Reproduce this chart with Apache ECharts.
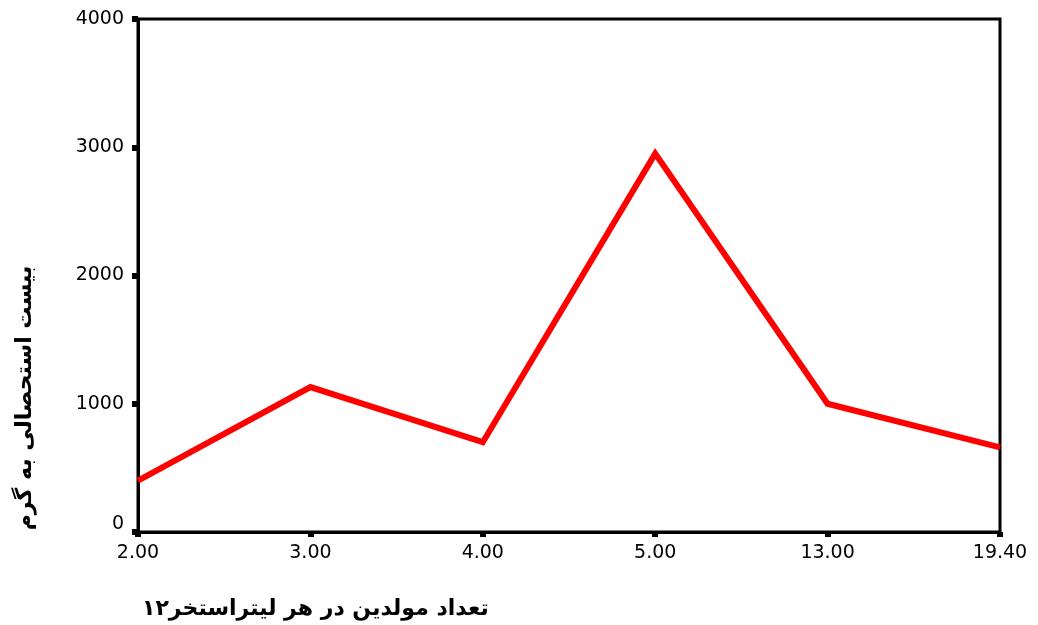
<!DOCTYPE html>
<html>
<head>
<meta charset="utf-8">
<script src="https://cdn.jsdelivr.net/npm/echarts@6/dist/echarts.min.js"></script>
<style>html,body{margin:0;padding:0;background:#fff}#c{width:1038px;height:625px}</style>
</head>
<body>
<div id="c"></div>
<script>
const categories = ['2.00', '3.00', '4.00', '5.00', '13.00', '19.40'];
const values = [400, 1130, 700, 2950, 1000, 660];
const yTicks = [0, 1000, 2000, 3000, 4000];
const xTitle = 'تعداد مولدین در هر لیتراستخر۱۲';
const yTitle = 'بیست استحصالی به گرم';

const chart = echarts.init(document.getElementById('c'), null, {renderer: 'canvas'});
const tickFont = {color: '#000', fontFamily: 'DejaVu Sans', fontSize: 19};
const titleStyle = {
  fill: '#000', font: 'bold 22px "DejaVu Sans"',
  textShadowColor: 'rgba(0,0,0,0.45)', textShadowOffsetX: 1.5, textShadowOffsetY: 1.5, textShadowBlur: 0
};
chart.setOption({
  animation: false,
  backgroundColor: '#fff',
  grid: {left: 138, right: 38, top: 19, bottom: 93, show: true, borderColor: '#000', borderWidth: 3, backgroundColor: 'transparent'},
  xAxis: {
    type: 'category', data: categories, boundaryGap: false,
    axisLine: {lineStyle: {color: '#000', width: 3}},
    axisTick: {show: true, length: 5, alignWithLabel: true, lineStyle: {color: '#000', width: 6}},
    axisLabel: Object.assign({margin: 12, interval: 0}, tickFont),
    splitLine: {show: false}
  },
  yAxis: {
    type: 'value', min: yTicks[0], max: yTicks[yTicks.length - 1], interval: 1000,
    axisLine: {show: true, lineStyle: {color: '#000', width: 3}},
    axisTick: {show: true, length: 6, lineStyle: {color: '#000', width: 6}},
    axisLabel: Object.assign({
      margin: 14,
      formatter: v => v === 0 ? '{z|0}' : String(v),
      rich: {z: {fontFamily: 'DejaVu Sans', fontSize: 19, color: '#000', padding: [0, 0, 16, 0]}}
    }, tickFont),
    splitLine: {show: false}
  },
  series: [{
    type: 'line', data: values, showSymbol: false, symbol: 'none',
    lineStyle: {color: '#ff0000', width: 6, join: 'miter', cap: 'butt'}
  }],
  graphic: [
    {type: 'text', left: 142, top: 598, style: Object.assign({text: xTitle}, titleStyle)},
    {type: 'text', x: 25, y: 398, rotation: Math.PI / 2,
     style: Object.assign({text: yTitle, align: 'center', verticalAlign: 'middle'}, titleStyle)}
  ]
});
</script>
</body>
</html>
